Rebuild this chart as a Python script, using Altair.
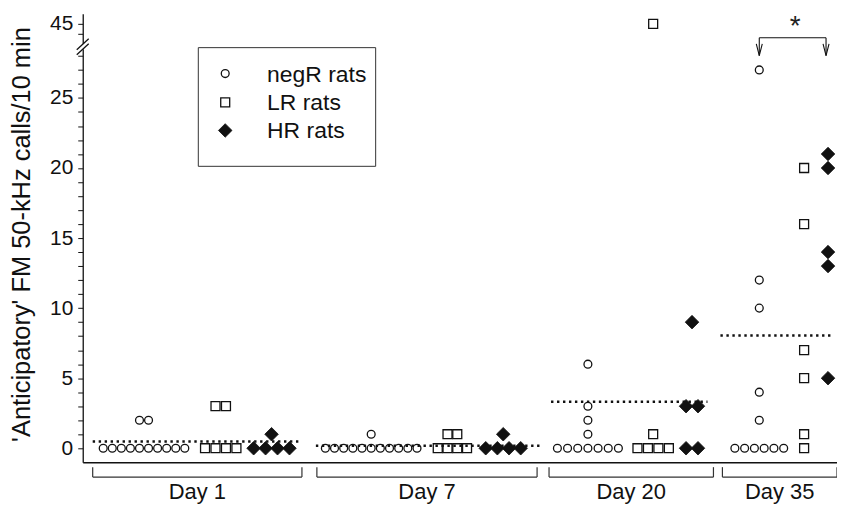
import altair as alt
import pandas as pd
from collections import Counter

# ---------------- data ----------------
days = ["Day 1", "Day 7", "Day 20", "Day 35"]
groups = ["negR rats", "LR rats", "HR rats"]

negR_calls = [
    [0, 0, 0, 0, 0, 0, 0, 0, 0, 0, 2, 2],
    [0, 0, 0, 0, 0, 0, 0, 0, 0, 0, 0, 1],
    [0, 0, 0, 0, 0, 0, 0, 1, 2, 3, 6],
    [0, 0, 0, 0, 0, 0, 2, 4, 10, 12, 27],
]
LR_calls = [
    [0, 0, 0, 0, 3, 3],
    [0, 0, 0, 0, 1, 1],
    [0, 0, 0, 0, 1, 45],
    [0, 1, 5, 7, 16, 20],
]
HR_calls = [
    [0, 0, 0, 0, 1],
    [0, 0, 0, 0, 1],
    [0, 0, 3, 3, 9],
    [5, 13, 14, 20, 21],
]
y_tick_values = list(range(0, 29)) + [44, 45, 46]
y_label_values = [0, 5, 10, 15, 20, 25, 45]
y_title = "'Anticipatory' FM 50-kHz calls/10 min"
star_text = "*"

# ---------------- layout (x in plot units, y in broken-axis units) ----------------
X_MAX = 757
day_span = [(10, 220), (235, 456), (468, 633), (642, 757)]
mean_span = [(10, 220), (234, 460), (470, 627), (640, 754)]
centers = {"negR rats": [61.5, 289.5, 507, 679],
           "LR rats": [138.5, 371, 572.5, 724],
           "HR rats": [189.5, 422, 611.5, 748]}
spacing = {"negR rats": [9.1, 9.2, 10.2, 9.8],
           "LR rats": [10.5, 9.8, 10.5, 10],
           "HR rats": [12, 11.7, 12, 12]}
marker_style = {"negR rats": {"shape": "circle", "size": 62, "fill": "white"},
                "LR rats": {"shape": "square", "size": 81, "fill": "white"},
                "HR rats": {"shape": "diamond", "size": 185, "fill": "#111111"}}

Y_MIN, Y_MAX = -1, 31


def ypos(v):
    # broken axis: 0..28 linear, then 44..46 compressed above the break
    return v if v <= 30 else round(30.29 + (v - 45) * 0.711, 3)


calls = {"negR rats": negR_calls, "LR rats": LR_calls, "HR rats": HR_calls}
rows = []
for g in groups:
    for d, vals in enumerate(calls[g]):
        cnt = Counter(vals)
        for v in sorted(cnt):
            m = cnt[v]
            for k in range(m):
                rows.append({"day": days[d], "group": g, "calls": v,
                             "x": centers[g][d] + (k - (m - 1) / 2) * spacing[g][d],
                             "y": ypos(v)})
points = pd.DataFrame(rows)

means = []
for d in range(4):
    allv = negR_calls[d] + LR_calls[d] + HR_calls[d]
    means.append({"x": mean_span[d][0], "x2": mean_span[d][1], "y": sum(allv) / len(allv)})
means = pd.DataFrame(means)

brackets_h = pd.DataFrame([{"x": a, "x2": b, "y": -2.06} for a, b in day_span])
brackets_v = pd.DataFrame([{"x": p, "y": -1.35, "y2": -2.06} for a, b in day_span for p in (a, b)])
day_labels = pd.DataFrame([{"x": (a + b) / 2, "y": -3.63, "t": days[i]} for i, (a, b) in enumerate(day_span)])

legend_df = pd.DataFrame({"group": groups, "x": [143] * 3, "xt": [185] * 3, "y": [26.74, 24.68, 22.68]})
legend_box = pd.DataFrame([{"x": 116, "x2": 294, "y": 28.59, "y2": 20.12}])

sig_h = pd.DataFrame([{"x": 679, "x2": 746, "y": 29.30}])
sig_v = pd.DataFrame([{"x": 679, "y": 29.30, "y2": 28.02}, {"x": 746, "y": 29.30, "y2": 28.02}])
sig_arrow = pd.DataFrame([{"x": 679, "y": 28.44}, {"x": 746, "y": 28.44}])
sig_star = pd.DataFrame([{"x": 715, "y": 30.05, "t": star_text}])

break_gap = pd.DataFrame([{"x": -2.5, "x2": 2.5, "y": 28.47, "y2": 28.86}])
break_slash = pd.DataFrame([{"x": -6, "x2": 6, "y": 28.44, "y2": 29.23},
                            {"x": -6, "x2": 6, "y": 28.09, "y2": 28.87}])

# ---------------- scales / axes ----------------
FONT = "Liberation Sans"
INK = "#111111"
xs = alt.Scale(domain=[0, X_MAX], nice=False, zero=False)
ys = alt.Scale(domain=[Y_MIN, Y_MAX], nice=False, zero=False)

label_expr = ("abs(datum.value - %s) < 0.01 ? '45' : "
              "(datum.value <= 28 && datum.value %% 5 === 0 ? format(datum.value, 'd') : '')" % ypos(45))

xaxis = alt.Axis(title="", ticks=False, labels=False, grid=False, domain=True,
                 domainColor=INK, domainWidth=1.3)
yaxis = alt.Axis(title=y_title, values=[ypos(v) for v in y_tick_values], labelExpr=label_expr,
                 grid=False, tickSize=5, tickColor=INK, tickWidth=1, domainColor=INK, domainWidth=1.3,
                 labelFont=FONT, labelFontSize=21, labelColor=INK, labelPadding=5,
                 labelOverlap=False, labelFlush=False,
                 titleFont=FONT, titleFontSize=25.5, titleFontWeight="normal", titleColor=INK,
                 titleAngle=270, titleX=-61, titleY=221, titleAlign="center", titleBaseline="middle")


def X(f):
    return alt.X(f, type="quantitative", scale=xs, axis=xaxis)


def Y(f):
    return alt.Y(f, type="quantitative", scale=ys, axis=yaxis)


layers = []

# axis break
layers.append(alt.Chart(break_gap).mark_rect(fill="white", stroke="white", strokeWidth=0)
              .encode(x=X("x"), x2="x2", y=Y("y"), y2="y2"))
layers.append(alt.Chart(break_slash).mark_rule(color=INK, strokeWidth=1.3)
              .encode(x=X("x"), x2="x2", y=Y("y"), y2="y2"))

# day brackets below axis
layers.append(alt.Chart(brackets_h).mark_rule(color="#333", strokeWidth=1.2)
              .encode(x=X("x"), x2="x2", y=Y("y")))
layers.append(alt.Chart(brackets_v).mark_rule(color="#333", strokeWidth=1.2)
              .encode(x=X("x"), y=Y("y"), y2="y2"))
layers.append(alt.Chart(day_labels).mark_text(font=FONT, fontSize=22, color=INK, baseline="alphabetic", align="center")
              .encode(x=X("x"), y=Y("y"), text="t:N"))

# legend box and text
layers.append(alt.Chart(legend_box).mark_rect(fillOpacity=0, stroke="#333", strokeWidth=1)
              .encode(x=X("x"), x2="x2", y=Y("y"), y2="y2"))
layers.append(alt.Chart(legend_df).mark_text(font=FONT, fontSize=23, color=INK, align="left", baseline="middle", dy=1)
              .encode(x=X("xt"), y=Y("y"), text="group:N"))

# significance bracket
layers.append(alt.Chart(sig_h).mark_rule(color=INK, strokeWidth=1.1).encode(x=X("x"), x2="x2", y=Y("y")))
layers.append(alt.Chart(sig_v).mark_rule(color=INK, strokeWidth=1.1).encode(x=X("x"), y=Y("y"), y2="y2"))
layers.append(alt.Chart(sig_arrow).mark_point(shape="M-0.5,-1L0,1L0.5,-1", filled=False, size=144,
                                              stroke=INK, strokeWidth=1.1, opacity=1)
              .encode(x=X("x"), y=Y("y")))
layers.append(alt.Chart(sig_star).mark_text(font=FONT, fontSize=28, fontWeight="normal", color="#222",
                                            align="center", baseline="middle")
              .encode(x=X("x"), y=Y("y"), text="t:N"))

# data points and legend symbols, one layer per rat group
for g in groups:
    st = marker_style[g]
    mk = dict(shape=st["shape"], size=st["size"], filled=True, fill=st["fill"],
              stroke=INK, strokeWidth=1.3 if g != "HR rats" else 0.8, opacity=1)
    layers.append(alt.Chart(points[points["group"] == g]).mark_point(**mk)
                  .encode(x=X("x"), y=Y("y"), tooltip=["day:N", "group:N", "calls:Q"]))
    layers.append(alt.Chart(legend_df[legend_df["group"] == g]).mark_point(**mk)
                  .encode(x=X("x"), y=Y("y")))

# mean lines (dotted)
layers.append(alt.Chart(means).mark_rule(color=INK, strokeWidth=2.4, strokeDash=[2.4, 3.6])
              .encode(x=X("x"), x2="x2", y=Y("y")))

chart = (alt.layer(*layers)
         .properties(width=757, height=450,
                     padding={"left": 75, "top": 5, "right": 0, "bottom": 41},
                     autosize=alt.AutoSizeParams(type="none"))
         .configure(font=FONT)
         .configure_view(strokeWidth=0))

chart.save("out.html", embed_options={"renderer": "svg", "actions": False})
